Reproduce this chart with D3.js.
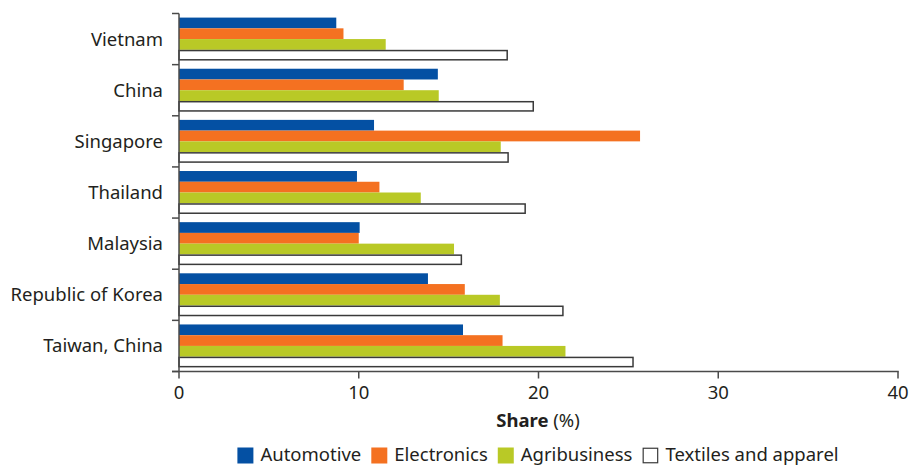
<!DOCTYPE html>
<html>
<head>
<meta charset="utf-8">
<script src="https://cdn.jsdelivr.net/npm/d3@7"></script>
<style>
  body { margin: 0; background: #fff; }
  text { font-family: "Noto Sans", "Open Sans", sans-serif; fill: #231f20; }
</style>
</head>
<body>
<div id="container"></div>
<script>
// window size
let cwW = 915;
let cwH = 468;

// data
const countries = ["Vietnam", "China", "Singapore", "Thailand", "Malaysia", "Republic of Korea", "Taiwan, China"];
const series = ["Automotive", "Electronics", "Agribusiness", "Textiles and apparel"];
const automotive  = [8.75, 14.4, 10.85, 9.9, 10.05, 13.85, 15.8];
const electronics = [9.15, 12.5, 25.65, 11.15, 10.0, 15.9, 18.0];
const agribusiness = [11.5, 14.45, 17.9, 13.45, 15.3, 17.85, 21.5];
const textiles    = [18.3, 19.75, 18.35, 19.3, 15.75, 21.4, 25.3];
const xTicks = [0, 10, 20, 30, 40];

const colors = ["#0450a3", "#f47121", "#b9c926", "#ffffff"];

// plot area
const plotL = 179, plotR = 898, plotT = 13.5, plotB = 371.5;
const fs = 18.5;

let svgArea = d3.select("#container").append("svg")
  .attr("width", cwW)
  .attr("height", cwH);

let x = d3.scaleLinear().domain([0, 40]).range([plotL, plotR]);

// outer bands (for ticks + labels)
let yOuter = d3.scaleBand().domain(countries).range([plotT, plotB]);
// group of bars inside each band
let y0 = d3.scaleBand().domain(countries).range([plotT, plotB])
  .paddingInner(0.16).paddingOuter(0.08);
let y1 = d3.scaleBand().domain(series).range([0, y0.bandwidth()]);

let values = [automotive, electronics, agribusiness, textiles];
let rows = [];
countries.forEach(function(c, i){
  series.forEach(function(s, j){
    rows.push({country: c, series: s, k: j, value: values[j][i]});
  });
});

/**************************
* Bars
**************************/
svgArea.append("g")
  .attr("id", "bars")
  .selectAll("rect")
  .data(rows)
  .enter()
  .append("rect")
  .attr("x", x(0))
  .attr("y", function(d){ return y0(d.country) + y1(d.series) + (d.k == 3 ? 0.75 : 0); })
  .attr("width", function(d){ return x(d.value) - x(0) - (d.k == 3 ? 0.75 : 0); })
  .attr("height", function(d){ return y1.bandwidth() - (d.k == 3 ? 1.5 : 0); })
  .attr("fill", function(d){ return colors[d.k]; })
  .attr("stroke", function(d){ return d.k == 3 ? "#3a3a3a" : "none"; })
  .attr("stroke-width", 1.5);

/**************************
* Axes
**************************/
let axisColor = "#4a4a4a";

// y axis line + boundary ticks
svgArea.append("line")
  .attr("x1", plotL).attr("x2", plotL)
  .attr("y1", plotT).attr("y2", plotB + 0.5)
  .attr("stroke", axisColor).attr("stroke-width", 1.5);

let edges = countries.map(function(c){ return yOuter(c); }).concat([plotB]);
svgArea.append("g")
  .selectAll("line")
  .data(edges)
  .enter()
  .append("line")
  .attr("x1", plotL - 7).attr("x2", plotL)
  .attr("y1", function(d){ return d; })
  .attr("y2", function(d){ return d; })
  .attr("stroke", axisColor).attr("stroke-width", 1.5);

svgArea.append("g")
  .selectAll("text")
  .data(countries)
  .enter()
  .append("text")
  .attr("x", 163)
  .attr("y", function(d){ return yOuter(d) + yOuter.bandwidth()/2; })
  .attr("dy", "0.35em")
  .attr("text-anchor", "end")
  .attr("font-size", fs)
  .text(function(d){ return d; });

// x axis
svgArea.append("line")
  .attr("x1", plotL - 7).attr("x2", plotR + 0.75)
  .attr("y1", plotB).attr("y2", plotB)
  .attr("stroke", axisColor).attr("stroke-width", 1.5);

let xt = svgArea.append("g").selectAll("g")
  .data(xTicks)
  .enter()
  .append("g")
  .attr("transform", function(d){ return "translate(" + x(d) + ",0)"; });
xt.append("line")
  .attr("y1", plotB).attr("y2", plotB + 7)
  .attr("stroke", axisColor).attr("stroke-width", 1.5);
xt.append("text")
  .attr("y", 393)
  .attr("dy", "0.35em")
  .attr("text-anchor", "middle")
  .attr("font-size", fs)
  .text(function(d){ return d; });

let title = svgArea.append("text")
  .attr("x", 538)
  .attr("y", 421)
  .attr("dy", "0.35em")
  .attr("text-anchor", "middle")
  .attr("font-size", fs);
title.append("tspan").attr("font-weight", "bold").text("Share");
title.append("tspan").text(" (%)");

/**************************
* Legend
**************************/
let legend = svgArea.append("g").attr("id", "legend");
let lx = 0;
series.forEach(function(s, j){
  let item = legend.append("g").attr("transform", "translate(" + lx + ",0)");
  item.append("rect")
    .attr("x", j == 3 ? 0.75 : 0).attr("y", j == 3 ? -6.75 : -7.5)
    .attr("width", j == 3 ? 14.5 : 16).attr("height", j == 3 ? 14.5 : 16)
    .attr("fill", colors[j])
    .attr("stroke", j == 3 ? "#3a3a3a" : "none")
    .attr("stroke-width", 1.2);
  let t = item.append("text")
    .attr("x", 23)
    .attr("y", 0)
    .attr("dy", "0.35em")
    .attr("font-size", fs)
    .text(s);
  lx += 23 + t.node().getComputedTextLength() + 10;
});
lx -= 10;
legend.attr("transform", "translate(" + (538 - lx/2) + ",455)");
</script>
</body>
</html>
